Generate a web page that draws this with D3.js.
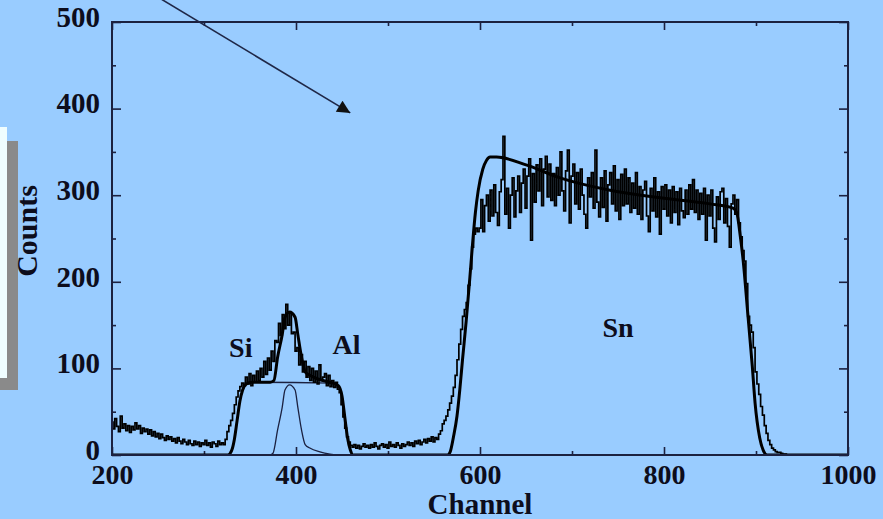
<!DOCTYPE html>
<html>
<head>
<meta charset="utf-8">
<script src="https://cdn.jsdelivr.net/npm/d3@7"></script>
<style>
body { margin: 0; background: #99ccff; overflow: hidden; }
text { font-family: "Liberation Serif", "Times New Roman", serif; font-weight: bold; fill: #0d0d1c; }
</style>
</head>
<body>
<script>
// measured spectrum, one value every 2 channels starting at channel 200
const channelStart = 200
const channelStep = 2
const measuredCounts = [
    38, 30, 42, 33, 27, 45, 31, 36, 28, 34, 26, 33, 29, 37, 30, 34, 25, 31, 27, 30,
    24, 29, 22, 27, 21, 25, 19, 24, 20, 17, 22, 18, 21, 16, 19, 14, 20, 16, 13, 18,
    15, 12, 17, 13, 11, 16, 12, 15, 10, 14, 12, 17, 11, 14, 9, 15, 13, 10, 16, 12,
    14, 12, 18, 27, 34, 40, 48, 58, 67, 74, 79, 83, 80, 90, 82, 94, 80, 92, 84, 97,
    86, 100, 90, 108, 93, 112, 98, 120, 108, 132, 130, 152, 138, 162, 146, 174, 150, 164, 140, 142,
    120, 124, 104, 116, 96, 108, 90, 102, 86, 100, 84, 97, 82, 104, 86, 90, 94, 80, 92, 79,
    86, 78, 84, 76, 72, 58, 44, 31, 21, 15, 11, 9, 12, 8, 11, 7, 10, 13, 9, 11,
    8, 12, 9, 14, 10, 7, 11, 13, 9, 12, 8, 15, 10, 12, 9, 14, 11, 8, 13, 10,
    12, 15, 11, 14, 10, 16, 13, 17, 12, 15, 18, 14, 19, 16, 21, 15, 20, 18, 24, 28,
    36, 40, 45, 52, 60, 68, 78, 92, 110, 128, 145, 160, 168, 176, 196, 215, 240, 255, 262, 258,
    262, 295, 258, 288, 300, 270, 306, 276, 312, 280, 265, 304, 318, 368, 278, 308, 262, 300, 320, 275,
    305, 322, 280, 314, 330, 285, 322, 342, 248, 325, 292, 335, 305, 342, 288, 330, 345, 298, 336, 294,
    325, 288, 332, 300, 350, 305, 282, 328, 352, 268, 322, 336, 290, 326, 284, 330, 300, 278, 262, 320,
    298, 326, 285, 352, 292, 275, 320, 286, 328, 270, 312, 326, 290, 334, 282, 318, 272, 324, 288, 330,
    290, 320, 280, 314, 285, 326, 278, 310, 272, 306, 316, 276, 258, 308, 282, 320, 275, 304, 255, 310,
    284, 312, 276, 306, 268, 310, 280, 304, 266, 308, 282, 274, 306, 278, 312, 284, 318, 280, 306, 272,
    302, 278, 308, 248, 300, 276, 306, 262, 246, 298, 272, 304, 308, 268, 296, 264, 240, 290, 300, 278,
    295, 268, 252, 236, 224, 198, 160, 150, 142, 124, 96, 82, 70, 56, 46, 34, 25, 17, 12, 8,
    6, 4, 3, 3, 2, 1, 1, 0, 0, 0, 0, 0, 0, 0, 0, 0, 0, 0, 0, 0,
    0, 0, 0, 0, 0, 0, 0, 0, 0, 0, 0, 0, 0, 0, 0, 0, 0, 0, 0, 0,
    0
]

// simulated total (thick line)
const fitChannels = [200, 326, 330, 333, 336, 339, 342, 346, 352, 372, 376, 380, 385, 388, 393, 399, 402, 406, 410, 415, 426, 437, 446, 450, 453, 456, 459, 462,
    565, 568, 571, 575, 578, 581, 585, 589, 592, 595, 598, 603, 607, 611, 618, 650, 687, 740, 796, 850, 875, 879, 883, 886, 891, 896, 899, 904, 908, 912, 1000]
const fitCounts = [0, 0, 5, 18, 40, 62, 75, 82, 84, 84, 86, 113, 139, 159, 165, 159, 139, 113, 96, 92, 87, 84, 80, 68, 44, 20, 6, 0,
    0, 5, 20, 45, 75, 110, 155, 205, 245, 280, 305, 330, 340, 344, 344, 335, 320, 306, 297, 290, 285, 280, 252, 225, 164, 102, 60, 20, 5, 0, 0]

// Si and Al components (thin lines)
const siChannels = [200, 326, 330, 333, 336, 339, 342, 346, 352, 440, 446, 450, 453, 456, 459, 462, 1000]
const siCounts = [0, 0, 5, 18, 40, 62, 75, 82, 84, 83, 80, 68, 44, 20, 6, 0, 0]
const alChannels = [200, 372, 375, 380, 385, 388, 393, 399, 402, 406, 410, 415, 426, 437, 448, 1000]
const alCounts = [0, 0, 2, 29, 55, 75, 81, 75, 55, 29, 12, 8, 3.5, 1, 0, 0]

const xTicks = [200, 400, 600, 800, 1000]
const xMinorTicks = [300, 500, 700, 900]
const yTicks = [0, 100, 200, 300, 400, 500]
const yMinorTicks = [50, 150, 250, 350, 450]

const labelNames = ['Si', 'Al', 'Sn']
const labelChannels = [340, 455, 750]
const labelCounts = [113, 117, 136]

const arrowFrom = [237, 537]
const arrowTo = [459, 395]

const width = 883
const height = 519
const ink = '#1b2140'

const svg = d3.select('body').append('svg').attr('width', width).attr('height', height)
svg.append('rect').attr('width', width).attr('height', height).attr('fill', '#99ccff')

// bit of a slide panel cut off at the left edge
svg.append('rect').attr('x', -5).attr('y', 141).attr('width', 23).attr('height', 249).attr('fill', '#8a8a8a')
svg.append('rect').attr('x', -5).attr('y', 127).attr('width', 12).attr('height', 251).attr('fill', '#effdff')

const x = d3.scaleLinear().domain([200, 1000]).range([112, 848])
const y = d3.scaleLinear().domain([0, 500]).range([455, 22])

svg.append('clipPath').attr('id', 'plotClip')
    .append('rect').attr('x', 112).attr('y', 22).attr('width', 736).attr('height', 433)

const styleAxis = (g, fontSize) => {
    g.attr('font-family', null).attr('font-size', fontSize)
    g.select('.domain').remove()
    g.selectAll('.tick line').attr('stroke', ink).attr('stroke-width', 1.6)
}

svg.append('g').attr('transform', 'translate(0,455)')
    .call(d3.axisBottom(x).tickValues(xTicks).tickSize(-8).tickSizeOuter(0).tickPadding(9).tickFormat(d3.format('d')))
    .call(g => styleAxis(g, 28))
svg.append('g').attr('transform', 'translate(0,455)')
    .call(d3.axisBottom(x).tickValues(xMinorTicks).tickSize(-4).tickFormat(''))
    .call(g => styleAxis(g, 10))
svg.append('g').attr('transform', 'translate(0,22)')
    .call(d3.axisTop(x).tickValues(xTicks).tickSize(-8).tickFormat(''))
    .call(g => styleAxis(g, 10))
svg.append('g').attr('transform', 'translate(0,22)')
    .call(d3.axisTop(x).tickValues(xMinorTicks).tickSize(-4).tickFormat(''))
    .call(g => styleAxis(g, 10))

svg.append('g').attr('transform', 'translate(112,0)')
    .call(d3.axisLeft(y).tickValues(yTicks).tickSize(-9).tickPadding(12).tickFormat(d3.format('d')))
    .call(g => styleAxis(g, 29))
    .call(g => g.selectAll('.tick text').attr('dy', '0.15em'))
svg.append('g').attr('transform', 'translate(112,0)')
    .call(d3.axisLeft(y).tickValues(yMinorTicks).tickSize(-4).tickFormat(''))
    .call(g => styleAxis(g, 10))
svg.append('g').attr('transform', 'translate(848,0)')
    .call(d3.axisRight(y).tickValues(yTicks).tickSize(-9).tickFormat(''))
    .call(g => styleAxis(g, 10))
svg.append('g').attr('transform', 'translate(848,0)')
    .call(d3.axisRight(y).tickValues(yMinorTicks).tickSize(-4).tickFormat(''))
    .call(g => styleAxis(g, 10))

const plot = svg.append('g').attr('clip-path', 'url(#plotClip)')

const smoothLine = d3.line().x(d => x(d[0])).y(d => y(d[1])).curve(d3.curveMonotoneX)

plot.append('path').datum(d3.zip(siChannels, siCounts))
    .attr('d', smoothLine).attr('fill', 'none').attr('stroke', ink).attr('stroke-width', 1.3)
plot.append('path').datum(d3.zip(alChannels, alCounts))
    .attr('d', smoothLine).attr('fill', 'none').attr('stroke', ink).attr('stroke-width', 1.3)
plot.append('path').datum(d3.zip(fitChannels, fitCounts))
    .attr('d', smoothLine).attr('fill', 'none').attr('stroke', '#000').attr('stroke-width', 3)

const stepLine = d3.line()
    .x((d, i) => x(channelStart + i * channelStep))
    .y(d => y(d))
    .curve(d3.curveStep)

plot.append('path').datum(measuredCounts)
    .attr('d', stepLine).attr('fill', 'none').attr('stroke', '#000').attr('stroke-width', 1.7)

// frame
svg.append('rect').attr('x', 112).attr('y', 22).attr('width', 736).attr('height', 433)
    .attr('fill', 'none').attr('stroke', ink).attr('stroke-width', 2)

svg.selectAll('.peak-label').data(labelNames).enter().append('text')
    .attr('class', 'peak-label')
    .attr('x', (d, i) => x(labelChannels[i]))
    .attr('y', (d, i) => y(labelCounts[i]))
    .attr('text-anchor', 'middle')
    .attr('font-size', 28)
    .text(d => d)

svg.append('text').attr('x', 480).attr('y', 514).attr('text-anchor', 'middle').attr('font-size', 29).text('Channel')
svg.append('text').attr('transform', 'translate(37,231) rotate(-90)').attr('text-anchor', 'middle').attr('font-size', 30).text('Counts')

// arrow pointing into the plot
svg.append('defs').append('marker').attr('id', 'arrowHead')
    .attr('viewBox', '0 0 10 10').attr('refX', 10).attr('refY', 5)
    .attr('markerWidth', 15).attr('markerHeight', 13).attr('markerUnits', 'userSpaceOnUse')
    .attr('orient', 'auto')
    .append('path').attr('d', 'M0,0L10,5L0,10Z').attr('fill', '#111')

svg.append('line')
    .attr('x1', x(arrowFrom[0])).attr('y1', y(arrowFrom[1]))
    .attr('x2', x(arrowTo[0])).attr('y2', y(arrowTo[1]))
    .attr('stroke', '#1f2747').attr('stroke-width', 1.6)
    .attr('marker-end', 'url(#arrowHead)')
</script>
</body>
</html>
